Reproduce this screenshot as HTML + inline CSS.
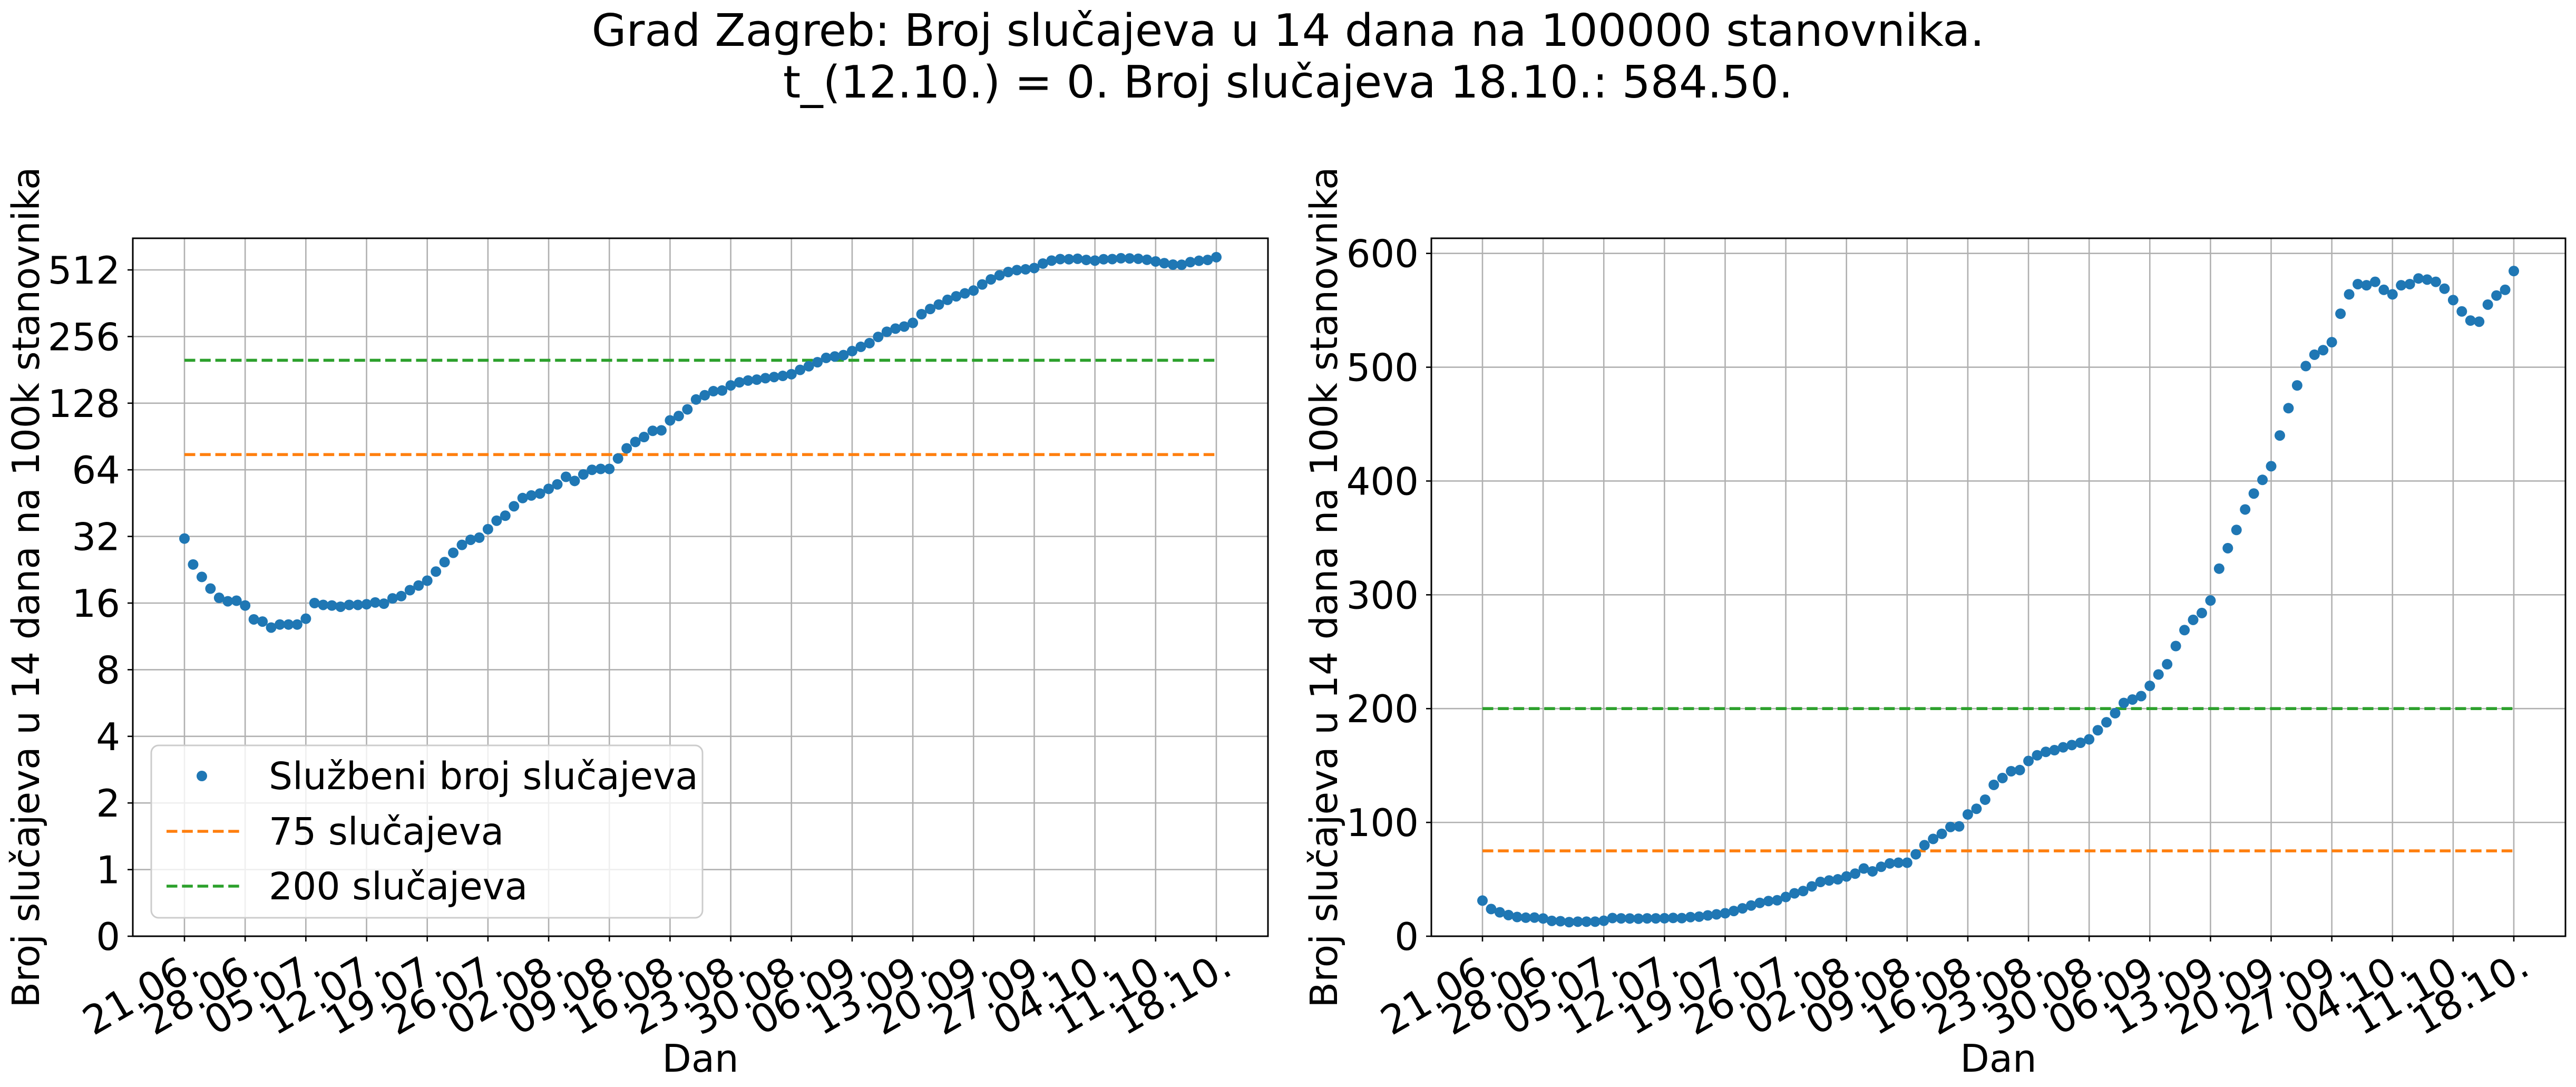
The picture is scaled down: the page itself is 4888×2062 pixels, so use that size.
<!DOCTYPE html>
<html><head><meta charset="utf-8"><style>
html,body{margin:0;padding:0;background:#fff;}
svg{display:block;font-family:"DejaVu Sans","Liberation Sans",sans-serif;}
</style></head><body>
<svg id="fig" width="4888" height="2062" viewBox="0 0 4888 2062" xmlns="http://www.w3.org/2000/svg">
<rect width="4888" height="2062" fill="#fff"/>
<text x="2444" y="87" font-size="85" text-anchor="middle">Grad Zagreb: Broj slučajeva u 14 dana na 100000 stanovnika.</text>
<text x="2444" y="185" font-size="85" text-anchor="middle">t_(12.10.) = 0. Broj slučajeva 18.10.: 584.50.</text>
<g id="left"></g>
<g id="right"></g>
</svg>
<script>
const values = [31.3,23.9,21.0,18.6,16.9,16.3,16.4,15.6,13.5,13.2,
12.4,12.8,12.8,12.8,13.6,16.0,15.7,15.6,15.4,15.7,
15.7,15.8,16.1,15.9,16.8,17.2,18.3,19.2,20.2,22.2,
24.5,27.0,29.3,30.9,31.6,34.5,37.7,39.7,43.8,47.7,
49,50,52.5,55,59.5,57,61,64,64.6,64.6,
72,80,85.5,90,96,96.5,107,112,120,133,
139,145,146,154,159,162,163.5,166,168,170,
173,181,188,196,205,208,211,220,230,239,
255,269,278,284,295,323,341,357,375,389,
401,413,440,464,484,501,511,515,522,547,
564,573,572,575,568,564,572,573,578,577,
575,569,559,549,541,540,555,563,568,584.5];
const xTickLabels = ["21.06.","28.06.","05.07.","12.07.","19.07.","26.07.","02.08.","09.08.","16.08.","23.08.","30.08.","06.09.","13.09.","20.09.","27.09.","04.10.","11.10.","18.10."];
const xTickDays = [0,7,14,21,28,35,42,49,56,63,70,77,84,91,98,105,112,119];
const logTicks = [0,1,2,4,8,16,32,64,128,256,512];
const linTicks = [0,100,200,300,400,500,600];
const threshold75 = 75;
const threshold200 = 200;

const NS="http://www.w3.org/2000/svg";
function mk(parent, tag, attrs, text){
  const e=document.createElementNS(NS,tag);
  for(const k in attrs) e.setAttribute(k,attrs[k]);
  if(text!==undefined) e.textContent=text;
  parent.appendChild(e); return e;
}
const TOP=452, BOTTOM=1776;
function T(v){return v<=1?v:1+Math.log2(v);}

function drawChart(g, left, right, x0, dayPx, yFn, ticks, ylabX, withLegend){
  const xs = d => x0 + d*dayPx;
  xTickDays.forEach((d)=>{
    const l=mk(g,'line',{x1:xs(d),x2:xs(d),y1:TOP,y2:BOTTOM,stroke:'#b0b0b0','stroke-width':2.6});
    
    
  });
  ticks.forEach(v=>{
    const y=yFn(v);
    const l=mk(g,'line',{x1:left,x2:right,y1:y,y2:y,stroke:'#b0b0b0','stroke-width':2.6});
    
    
  });
  const l75=mk(g,'line',{x1:xs(0),x2:xs(119),y1:yFn(threshold75),y2:yFn(threshold75),stroke:'#ff7f0e','stroke-width':5.6,'stroke-dasharray':'20.5 8.8'});
  
  
  const l200=mk(g,'line',{x1:xs(0),x2:xs(119),y1:yFn(threshold200),y2:yFn(threshold200),stroke:'#2ca02c','stroke-width':5.6,'stroke-dasharray':'20.5 8.8'});
  
  
  values.forEach((v,i)=>{
    const c=mk(g,'circle',{cx:xs(i),cy:yFn(v),r:10,fill:'#1f77b4'});
    
    
  });
  const fr=mk(g,'rect',{x:left,y:TOP,width:right-left,height:BOTTOM-TOP,fill:'none',stroke:'#000','stroke-width':3});
  
  
  xTickDays.forEach((d,i)=>{
    mk(g,'line',{x1:xs(d),x2:xs(d),y1:BOTTOM,y2:BOTTOM+10,stroke:'#000','stroke-width':2.6});
    const t=mk(g,'text',{transform:`translate(${xs(d)+6},${BOTTOM+22}) rotate(-30)`,'font-size':75,'text-anchor':'end',dy:'0.74em'},xTickLabels[i]);
    
    
  });
  ticks.forEach(v=>{
    const y=yFn(v);
    mk(g,'line',{x1:left-10,x2:left,y1:y,y2:y,stroke:'#000','stroke-width':2.6});
    const t=mk(g,'text',{x:left-24,y:y+26,'font-size':72,'text-anchor':'end'},String(v));
    
    
  });
  const xl=mk(g,'text',{x:(left+right)/2,y:2033,'font-size':72,'text-anchor':'middle'},'Dan');
  
  
  const yl=mk(g,'text',{transform:`translate(${ylabX},${(TOP+BOTTOM)/2}) rotate(-90)`,'font-size':71,'text-anchor':'middle'},'Broj slučajeva u 14 dana na 100k stanovnika');
  
  
  if(withLegend){
    const lg=mk(g,'g',{});
    
    
    mk(lg,'rect',{x:287,y:1414,width:1046,height:327,rx:14,fill:'#fff','fill-opacity':0.8,stroke:'#cccccc','stroke-width':3});
    const m=mk(lg,'circle',{cx:383,cy:1472,r:10,fill:'#1f77b4'});
    
    
    mk(lg,'line',{x1:316,x2:454,y1:1577,y2:1577,stroke:'#ff7f0e','stroke-width':5.6,'stroke-dasharray':'20.5 8.8'});
    mk(lg,'line',{x1:316,x2:454,y1:1681,y2:1681,stroke:'#2ca02c','stroke-width':5.6,'stroke-dasharray':'20.5 8.8'});
    const labels=['Službeni broj slučajeva','75 slučajeva','200 slučajeva'];
    const ys=[1472,1577,1681];
    labels.forEach((s,i)=>{
      const t=mk(lg,'text',{x:510,y:ys[i]+25,'font-size':71},s);
      
      
    });
  }
}
const unit=126.4;
drawChart(document.getElementById('left'),252,2406,350,(2308-350)/119,v=>BOTTOM-unit*T(v),logTicks,74,true);
drawChart(document.getElementById('right'),2716,4868,2813,(4770-2813)/119,v=>BOTTOM-v*(BOTTOM-480.7)/600,linTicks,2537,false);
</script>
</body></html>
